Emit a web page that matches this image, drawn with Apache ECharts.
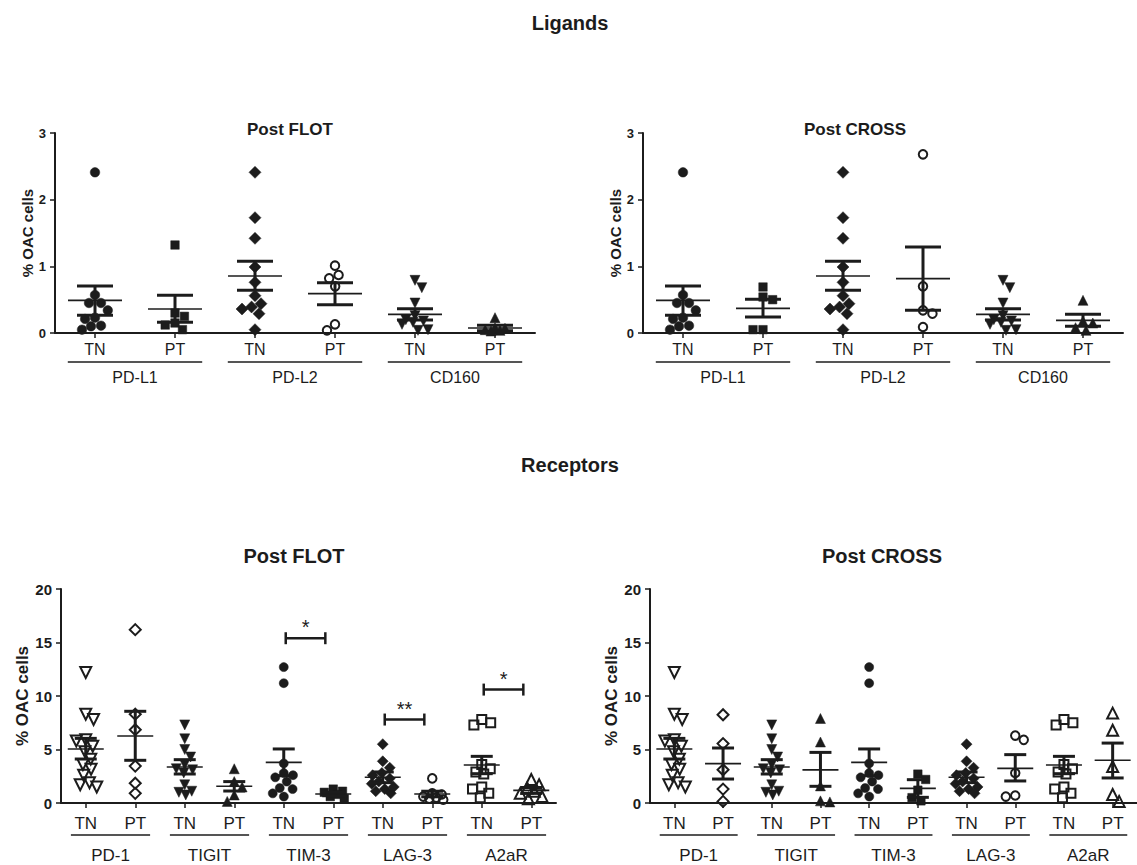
<!DOCTYPE html>
<html><head><meta charset="utf-8">
<script src="https://cdn.jsdelivr.net/npm/echarts@6/dist/echarts.min.js"></script>
<style>html,body{margin:0;padding:0;background:#fff}#c{width:1137px;height:865px}</style>
</head><body><div id="c"></div><script>
// ---------- categories / tick labels ----------
const ligandCats = ['TN','PT','TN','PT','TN','PT'];
const ligandGroups = ['PD-L1','PD-L2','CD160'];
const receptorCats = ['TN','PT','TN','PT','TN','PT','TN','PT','TN','PT'];
const receptorGroups = ['PD-1','TIGIT','TIM-3','LAG-3','A2aR'];
const ligandTicks = [0,1,2,3];
const receptorTicks = [0,5,10,15,20];

// ---------- Ligands, Post FLOT ----------
const ligFlotValues = [
  [2.41,0.57,0.45,0.45,0.34,0.23,0.21,0.11,0.10,0.05],
  [1.32,0.30,0.25,0.15,0.12,0.05],
  [2.41,1.73,1.42,0.99,0.76,0.56,0.44,0.39,0.36,0.29,0.05],
  [1.01,0.87,0.82,0.70,0.13,0.04],
  [0.79,0.68,0.45,0.26,0.20,0.18,0.16,0.13,0.05,0.04],
  [0.23,0.08,0.07,0.05,0.04,0.03]
];
const ligFlotMean = [0.49,0.36,0.855,0.59,0.28,0.075];
const ligFlotHi   = [0.705,0.565,1.075,0.755,0.365,0.115];
const ligFlotLo   = [0.265,0.16,0.64,0.425,0.195,0.035];

// ---------- Ligands, Post CROSS ----------
const ligCrossValues = [
  [2.41,0.57,0.45,0.45,0.34,0.23,0.21,0.11,0.10,0.05],
  [0.69,0.54,0.50,0.05,0.05],
  [2.41,1.73,1.42,0.99,0.76,0.56,0.44,0.39,0.36,0.29,0.05],
  [2.68,0.70,0.34,0.29,0.09],
  [0.79,0.68,0.45,0.26,0.20,0.18,0.16,0.13,0.05,0.04],
  [0.49,0.18,0.15,0.08,0.04]
];
const ligCrossMean = [0.49,0.37,0.855,0.815,0.28,0.19];
const ligCrossHi   = [0.705,0.505,1.075,1.29,0.365,0.28];
const ligCrossLo   = [0.265,0.24,0.64,0.34,0.195,0.10];

// ---------- Receptors, Post FLOT ----------
const recFlotValues = [
  [12.2,8.3,7.8,5.9,5.8,5.3,4.8,4.1,3.6,3.15,2.6,1.9,1.7,1.5],
  [16.2,8.3,6.85,3.45,1.85,0.9],
  [7.3,6.0,5.0,4.3,3.6,3.2,3.1,2.8,1.7,1.1,1.0,0.75],
  [3.2,2.0,1.5,0.75,0.15],
  [12.7,11.2,3.7,2.8,2.6,2.4,2.0,1.4,1.3,0.9,0.6],
  [1.3,1.1,1.0,0.8,0.6,0.4],
  [5.5,3.9,3.3,2.8,2.6,2.3,2.0,1.8,1.5,1.3,1.1,0.9],
  [2.3,0.9,0.8,0.6,0.5,0.4,0.3],
  [7.8,7.5,7.3,3.6,3.2,2.9,2.7,1.5,1.3,0.9,0.5],
  [2.2,1.7,1.4,1.1,0.9,0.6,0.4]
];
const recFlotMean = [5.05,6.26,3.36,1.56,3.8,0.84,2.4,0.84,3.55,1.18];
const recFlotHi   = [6.04,8.57,4.05,2.0,5.05,1.0,2.9,1.1,4.36,1.45];
const recFlotLo   = [4.11,3.99,2.71,1.12,2.55,0.68,1.9,0.58,2.74,0.9];
const recFlotSigPairs  = [[4,5],[6,7],[8,9]];
const recFlotSigHeight = [15.4,7.8,10.6];
const recFlotSigText   = ['*','**','*'];

// ---------- Receptors, Post CROSS ----------
const recCrossValues = [
  [12.2,8.3,7.8,5.9,5.8,5.3,4.8,4.1,3.6,3.15,2.6,1.9,1.7,1.5],
  [8.25,5.55,3.1,1.3,0.15],
  [7.3,6.0,5.0,4.3,3.6,3.2,3.1,2.8,1.7,1.1,1.0,0.75],
  [7.9,5.7,1.6,0.2,0.1],
  [12.7,11.2,3.7,2.8,2.6,2.4,2.0,1.4,1.3,0.9,0.6],
  [2.7,2.2,1.2,0.5,0.2],
  [5.5,3.9,3.3,2.8,2.6,2.3,2.0,1.8,1.5,1.3,1.1,0.9],
  [6.3,5.9,2.8,0.7,0.6],
  [7.8,7.5,7.3,3.6,3.2,2.9,2.7,1.5,1.3,0.9,0.5],
  [8.4,6.8,3.4,0.8,0.15]
];
const recCrossMean = [5.05,3.68,3.36,3.1,3.8,1.37,2.4,3.24,3.55,3.99];
const recCrossHi   = [6.04,5.14,4.05,4.73,5.05,2.18,2.9,4.52,4.36,5.6];
const recCrossLo   = [4.11,2.24,2.71,1.56,2.55,0.53,1.9,2.06,2.74,2.34];

// ---------- styling ----------
const FONT = "'Liberation Sans', Arial, Helvetica, sans-serif";
const INK = '#1c1c1c';
const ligandMarkers = [
  {symbol:'circle', fill:true, size:9.5},
  {symbol:'rect', fill:true, size:8.5},
  {symbol:'diamond', fill:true, size:12},
  {symbol:'circle', fill:false, size:8.5},
  {symbol:'triangle', rot:180, fill:true, size:10},
  {symbol:'triangle', fill:true, size:10}
];
const receptorMarkers = [
  {symbol:'triangle', rot:180, fill:false, size:11},
  {symbol:'diamond', fill:false, size:11},
  {symbol:'triangle', rot:180, fill:true, size:10},
  {symbol:'triangle', fill:true, size:10},
  {symbol:'circle', fill:true, size:9},
  {symbol:'rect', fill:true, size:8.5},
  {symbol:'diamond', fill:true, size:11},
  {symbol:'circle', fill:false, size:8.5},
  {symbol:'rect', fill:false, size:9},
  {symbol:'triangle', fill:false, size:11}
];

const small = {yLab:13, name:15, nameGap:20, xLab:16, xMargin:8, gLab:16, gLine:29, gText:15, ext:0.34, mw:27, cw:18, d:10, maxW:13, yMax:3, yInt:1, ticks:ligandTicks};
const big   = {yLab:15, name:17, nameGap:29, xLab:17, xMargin:12, gLab:17, gLine:32, gText:20, ext:0.3, mw:18, cw:11, d:9.5, maxW:11, yMax:20, yInt:5, ticks:receptorTicks};

const panels = [
  {cats:ligandCats, groups:ligandGroups, values:ligFlotValues, mean:ligFlotMean, hi:ligFlotHi, lo:ligFlotLo, markers:ligandMarkers, sig:null, grid:{left:55, top:133, width:480, height:200}, st:small},
  {cats:ligandCats, groups:ligandGroups, values:ligCrossValues, mean:ligCrossMean, hi:ligCrossHi, lo:ligCrossLo, markers:ligandMarkers, sig:null, grid:{left:643, top:133, width:480, height:200}, st:small},
  {cats:receptorCats, groups:receptorGroups, values:recFlotValues, mean:recFlotMean, hi:recFlotHi, lo:recFlotLo, markers:receptorMarkers, sig:{pairs:recFlotSigPairs, h:recFlotSigHeight, t:recFlotSigText}, grid:{left:61, top:589, width:495, height:214}, st:big},
  {cats:receptorCats, groups:receptorGroups, values:recCrossValues, mean:recCrossMean, hi:recCrossHi, lo:recCrossLo, markers:receptorMarkers, sig:null, grid:{left:650, top:589, width:494, height:214}, st:big}
];

// beeswarm layout (pixel offsets) derived from the values, with a capped width
function swarmOffsets(vals, pxPerUnit, d, maxW) {
  const order = vals.map((v,i)=>i).sort((a,b)=>vals[b]-vals[a]);
  const placed = []; const out = new Array(vals.length).fill(0);
  let side = 1;
  for (const i of order) {
    const y = vals[i]*pxPerUnit;
    const cands = [0];
    for (const p of placed) {
      const dy = Math.abs(y-p.y);
      if (dy < d) { const h = Math.sqrt(d*d-dy*dy); cands.push(p.x+h, p.x-h); }
    }
    let best = null;
    for (const c of cands) {
      if (Math.abs(c) > maxW + 0.01) continue;
      if (placed.every(p => Math.hypot(c-p.x, y-p.y) >= d-0.01)) {
        if (best === null || Math.abs(c) < Math.abs(best)-0.01 ||
            (Math.abs(Math.abs(c)-Math.abs(best)) < 0.01 && c*side > 0)) best = c;
      }
    }
    if (best === null) {
      // no free slot inside the cap: take the least-overlapping spot
      let bestScore = -1;
      for (let c = -maxW; c <= maxW + 0.001; c += 1) {
        const score = Math.min(...placed.map(p => Math.hypot(c-p.x, y-p.y)));
        if (score > bestScore + 0.01 || (Math.abs(score-bestScore) < 0.01 && Math.abs(c) < Math.abs(best))) {
          bestScore = score; best = c;
        }
      }
    }
    if (Math.abs(best) > 0.01) side = -side;
    placed.push({x:best, y}); out[i] = best;
  }
  return out;
}

const grid = [], xAxis = [], yAxis = [], series = [];
panels.forEach((P, pi) => {
  const st = P.st;
  grid.push(Object.assign({containLabel:false}, P.grid));
  xAxis.push({
    type:'category', gridIndex:pi, data:P.cats, boundaryGap:true,
    axisLine:{show:true, onZero:false, lineStyle:{color:INK, width:2}},
    axisTick:{show:true, alignWithLabel:true, length:5, lineStyle:{color:INK, width:1.5}},
    axisLabel:{show:true, interval:0, margin:st.xMargin, fontSize:st.xLab, fontFamily:FONT, color:INK},
    splitLine:{show:false}
  });
  yAxis.push({
    type:'value', gridIndex:pi, min:0, max:st.yMax, interval:st.yInt,
    axisLine:{show:true, lineStyle:{color:INK, width:2}},
    axisTick:{show:true, length:5, lineStyle:{color:INK, width:1.5}},
    axisLabel:{margin:9, fontSize:st.yLab, fontWeight:'bold', fontFamily:FONT, color:INK},
    splitLine:{show:false},
    name:'% OAC cells', nameLocation:'middle', nameRotate:90, nameGap:st.nameGap,
    nameTextStyle:{fontSize:st.name, fontWeight:'bold', fontFamily:FONT, color:INK}
  });
  const ppu = P.grid.height / st.yMax;
  P.values.forEach((vals, ci) => {
    const m = P.markers[ci];
    const offs = swarmOffsets(vals, ppu, st.d, st.maxW);
    series.push({
      type:'scatter', xAxisIndex:pi, yAxisIndex:pi, z:2,
      symbol:m.symbol, symbolSize:m.size, symbolRotate:m.rot || 0,
      itemStyle: m.fill ? {color:INK, borderColor:INK, borderWidth:0.5, opacity:1}
                        : {color:'rgba(255,255,255,0)', borderColor:INK, borderWidth:2, opacity:1},
      emphasis:{disabled:true}, silent:true,
      data: vals.map((v,k)=>({value:[ci, v], symbolOffset:[offs[k], 0]}))
    });
  });
  // mean +/- SEM
  series.push({
    type:'custom', xAxisIndex:pi, yAxisIndex:pi, z:4, clip:false, silent:true,
    data: P.mean.map((m,i)=>[i, m, P.lo[i], P.hi[i]]),
    encode:{x:0, y:[1,2,3]},
    renderItem:(params, api) => {
      const c = api.coord([api.value(0), api.value(1)]);
      const lo = api.coord([api.value(0), api.value(2)]);
      const hi = api.coord([api.value(0), api.value(3)]);
      const s = {stroke:INK, lineWidth:3};
      return {type:'group', children:[
        {type:'line', shape:{x1:c[0]-st.mw, y1:c[1], x2:c[0]+st.mw, y2:c[1]}, style:{stroke:INK, lineWidth:1.6}},
        {type:'line', shape:{x1:c[0], y1:lo[1], x2:c[0], y2:hi[1]}, style:s},
        {type:'line', shape:{x1:c[0]-st.cw, y1:lo[1], x2:c[0]+st.cw, y2:lo[1]}, style:s},
        {type:'line', shape:{x1:c[0]-st.cw, y1:hi[1], x2:c[0]+st.cw, y2:hi[1]}, style:s}
      ]};
    }
  });
  // group underline + label
  series.push({
    type:'custom', xAxisIndex:pi, yAxisIndex:pi, z:4, clip:false, silent:true,
    data: P.groups.map((g,i)=>[2*i, 2*i+1, 0]),
    encode:{x:[0,1], y:2},
    renderItem:(params, api) => {
      const a = api.coord([api.value(0), 0]);
      const b = api.coord([api.value(1), 0]);
      const bw = api.size([1, 0])[0];
      const x1 = a[0] - st.ext*bw, x2 = b[0] + st.ext*bw, y = a[1] + st.gLine;
      return {type:'group', children:[
        {type:'line', shape:{x1, y1:y, x2, y2:y}, style:{stroke:INK, lineWidth:1.6}},
        {type:'text', x:(x1+x2)/2, y:y+st.gText, style:{text:P.groups[params.dataIndex], align:'center', verticalAlign:'middle', fontSize:st.gLab, fontFamily:FONT, fill:INK}}
      ]};
    }
  });
  if (P.sig) {
    series.push({
      type:'custom', xAxisIndex:pi, yAxisIndex:pi, z:4, clip:false, silent:true,
      data: P.sig.pairs.map((p,i)=>[p[0], p[1], P.sig.h[i]]),
      encode:{x:[0,1], y:2},
      renderItem:(params, api) => {
        const a = api.coord([api.value(0), api.value(2)]);
        const b = api.coord([api.value(1), api.value(2)]);
        const bw = api.size([1, 0])[0];
        const x1 = a[0] + 0.04*bw, x2 = b[0] - 0.16*bw, y = a[1];
        const s = {stroke:INK, lineWidth:2.5};
        return {type:'group', children:[
          {type:'line', shape:{x1, y1:y, x2, y2:y}, style:s},
          {type:'line', shape:{x1, y1:y-6, x2:x1, y2:y+6}, style:s},
          {type:'line', shape:{x1:x2, y1:y-6, x2, y2:y+6}, style:s},
          {type:'text', x:(x1+x2)/2, y:y-1, style:{text:P.sig.t[params.dataIndex], align:'center', verticalAlign:'bottom', fontSize:20, fontFamily:FONT, fill:INK}}
        ]};
      }
    });
  }
});

const tStyle = (fs) => ({fontSize:fs, fontWeight:'bold', fontFamily:FONT, color:INK});
const option = {
  backgroundColor:'#fff',
  animation:false,
  title:[
    {text:'Ligands', left:570, top:13, textAlign:'center', padding:0, textStyle:tStyle(20)},
    {text:'Post FLOT', left:290, top:121, textAlign:'center', padding:0, textStyle:tStyle(17)},
    {text:'Post CROSS', left:855, top:121, textAlign:'center', padding:0, textStyle:tStyle(17)},
    {text:'Receptors', left:570, top:455, textAlign:'center', padding:0, textStyle:tStyle(20)},
    {text:'Post FLOT', left:294, top:546, textAlign:'center', padding:0, textStyle:tStyle(20)},
    {text:'Post CROSS', left:882, top:546, textAlign:'center', padding:0, textStyle:tStyle(20)}
  ],
  grid, xAxis, yAxis, series
};
const chart = echarts.init(document.getElementById('c'), null, {renderer:'svg'});
chart.setOption(option);
</script></body></html>
